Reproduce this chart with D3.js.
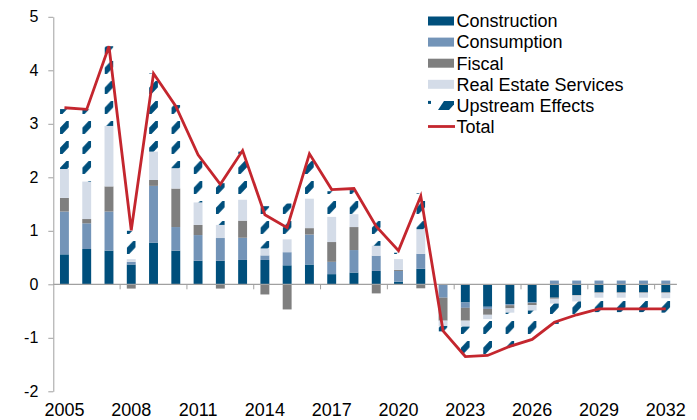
<!DOCTYPE html>
<html><head><meta charset="utf-8">
<script src="https://cdn.jsdelivr.net/npm/d3@7"></script>
<style>
html,body{margin:0;padding:0;background:#fff;}
svg{display:block;font-family:"Liberation Sans",Arial,sans-serif;}
</style></head>
<body><svg id="chart" width="697" height="420"></svg>
<script>
const years = [2005,2006,2007,2008,2009,2010,2011,2012,2013,2014,2015,2016,2017,2018,2019,2020,2021,2022,2023,2024,2025,2026,2027,2028,2029,2030,2031,2032];
const construction = [0.56,0.66,0.63,0.37,0.78,0.63,0.44,0.44,0.455,0.455,0.355,0.37,0.19,0.22,0.25,0.05,0.29,-0.01,-0.34,-0.42,-0.37,-0.34,-0.25,-0.20,-0.15,-0.15,-0.15,-0.15];
const consumption = [0.80,0.48,0.73,0.05,1.06,0.44,0.48,0.425,0.415,0.085,0.245,0.56,0.23,0.42,0.285,0.20,0.28,-0.24,-0.10,-0.04,-0.02,-0.01,0.07,0.07,0.07,0.07,0.07,0.07];
const fiscal = [0.255,0.08,0.47,-0.08,0.11,0.72,0.19,-0.08,0.32,-0.19,-0.47,0.12,0.37,0.43,-0.17,0.02,-0.075,-0.43,-0.24,-0.11,-0.06,-0.04,-0.02,-0.01,-0.01,-0.01,-0.01,-0.01];
const realEstate = [0.54,0.70,1.13,0.05,0.53,0.38,0.42,0.245,0.39,0.13,0.24,0.55,0.47,0.24,0.185,0.20,0.46,-0.10,-0.11,-0.08,-0.08,-0.10,-0.09,-0.11,-0.09,-0.09,-0.09,-0.10];
const upstream = [1.12,1.35,1.49,0.53,1.46,1.18,0.89,0.78,0.90,0.79,0.67,0.79,0.48,0.45,0.50,0.12,0.67,-0.10,-0.56,-0.68,-0.63,-0.54,-0.38,-0.28,-0.27,-0.27,-0.27,-0.27];
const total = [3.30,3.27,4.45,1.01,3.94,3.33,2.42,1.87,2.50,1.30,1.06,2.44,1.77,1.79,1.08,0.63,1.65,-0.87,-1.35,-1.33,-1.16,-1.03,-0.71,-0.57,-0.46,-0.46,-0.46,-0.46];
const seriesNames = ["Construction","Consumption","Fiscal","Real Estate Services","Upstream Effects"];
const yTicks = [-2,-1,0,1,2,3,4,5];
const xLabelYears = [2005,2008,2011,2014,2017,2020,2023,2026,2029,2032];
const xTickYears = [2008,2011,2014,2017,2020,2023,2026,2029,2032];

const colors = {"Construction":"#004f7c","Consumption":"#7394b8","Fiscal":"#7f7f7f","Real Estate Services":"#d4dce8","Upstream Effects":"url(#upPat)"};
const lineColor = "#c4262e";
const axisColor = "#a0a0a0";

const svg = d3.select("#chart");
const x0 = 53.3, x1 = 676.9;
const x = d3.scaleBand().domain(years).range([x0,x1]).paddingInner(0.6).paddingOuter(0.3);
const y = d3.scaleLinear().domain([-2,5]).range([391.3,16.8]);

const table = years.map((yr,i)=>({year:yr,"Construction":construction[i],"Consumption":consumption[i],"Fiscal":fiscal[i],"Real Estate Services":realEstate[i],"Upstream Effects":upstream[i]}));
const stack = d3.stack().keys(seriesNames).offset(d3.stackOffsetDiverging)(table);

// pattern
const step = x.step();
const defs = svg.append("defs");
const pat = defs.append("pattern").attr("id","upPat").attr("patternUnits","userSpaceOnUse")
  .attr("x",x0).attr("y",0).attr("width",step).attr("height",20);
const cx = step/2;
pat.append("polygon").attr("fill","#004f7c")
  .attr("points",[[cx-4.6,14],[cx-4.6,8],[cx+2,1],[cx+4.6,1],[cx+4.6,7],[cx-2,14]].map(p=>p.join(",")).join(" "));

// bars
svg.append("g").selectAll("g").data(stack).join("g")
  .attr("fill",d=>colors[d.key])
  .selectAll("rect").data(d=>d).join("rect")
  .attr("x",d=>x(d.data.year))
  .attr("width",x.bandwidth())
  .attr("y",d=>y(Math.max(d[0],d[1])))
  .attr("height",d=>Math.abs(y(d[0])-y(d[1])));

// y axis
const yAxis = svg.append("g").attr("transform",`translate(${x0},0)`)
  .call(d3.axisLeft(y).tickValues(yTicks).tickSize(5).tickSizeOuter(0).tickPadding(10).tickFormat(d=>String(d)));
yAxis.select(".domain").attr("stroke",axisColor);
yAxis.selectAll(".tick line").attr("stroke",axisColor);
yAxis.selectAll("text").attr("font-size",16).attr("fill","#000").attr("font-family","'Liberation Sans',Arial,sans-serif");

// x axis line
const zeroY = y(0);
svg.append("line").attr("x1",x0).attr("x2",x1).attr("y1",zeroY).attr("y2",zeroY).attr("stroke",axisColor).attr("stroke-width",1.3);
svg.append("g").selectAll("line").data(xTickYears).join("line")
  .attr("x1",d=>x(d)-x.step()*0.3).attr("x2",d=>x(d)-x.step()*0.3)
  .attr("y1",zeroY).attr("y2",zeroY+5).attr("stroke",axisColor);
svg.append("g").selectAll("text").data(xLabelYears).join("text")
  .attr("x",d=>x(d)+x.bandwidth()/2).attr("y",416)
  .attr("text-anchor","middle").attr("font-size",18).attr("fill","#000").text(d=>d);

// total line
const line = d3.line().x((d,i)=>x(years[i])+x.bandwidth()/2).y(d=>y(d));
svg.append("path").datum(total).attr("d",line).attr("fill","none")
  .attr("stroke",lineColor).attr("stroke-width",2.8).attr("stroke-linejoin","miter");

// legend
const legendNames = seriesNames.concat(["Total"]);
const lg = svg.append("g");
const lx = 428, ly0 = 21, lstep = 21.1;
legendNames.forEach((name,i)=>{
  const cy = ly0 + i*lstep;
  if(name==="Total"){
    lg.append("line").attr("x1",lx).attr("x2",lx+27).attr("y1",cy).attr("y2",cy).attr("stroke",lineColor).attr("stroke-width",2.8);
  } else if(name==="Upstream Effects"){
    lg.append("rect").attr("x",lx).attr("y",cy-4.5).attr("width",3).attr("height",3).attr("fill","#004f7c");
    lg.append("polygon").attr("fill","#004f7c")
      .attr("points",[[lx+10,cy+4.5],[lx+16,cy-4.5],[lx+26,cy-4.5],[lx+26,cy-1],[lx+21,cy+4.5]].map(p=>p.join(",")).join(" "));
  } else {
    lg.append("rect").attr("x",lx).attr("y",cy-4.5).attr("width",26).attr("height",9).attr("fill",colors[name]);
  }
  lg.append("text").attr("x",lx+28.5).attr("y",cy).attr("dy","0.35em").attr("font-size",18).attr("fill","#000").text(name);
});
</script></body></html>
